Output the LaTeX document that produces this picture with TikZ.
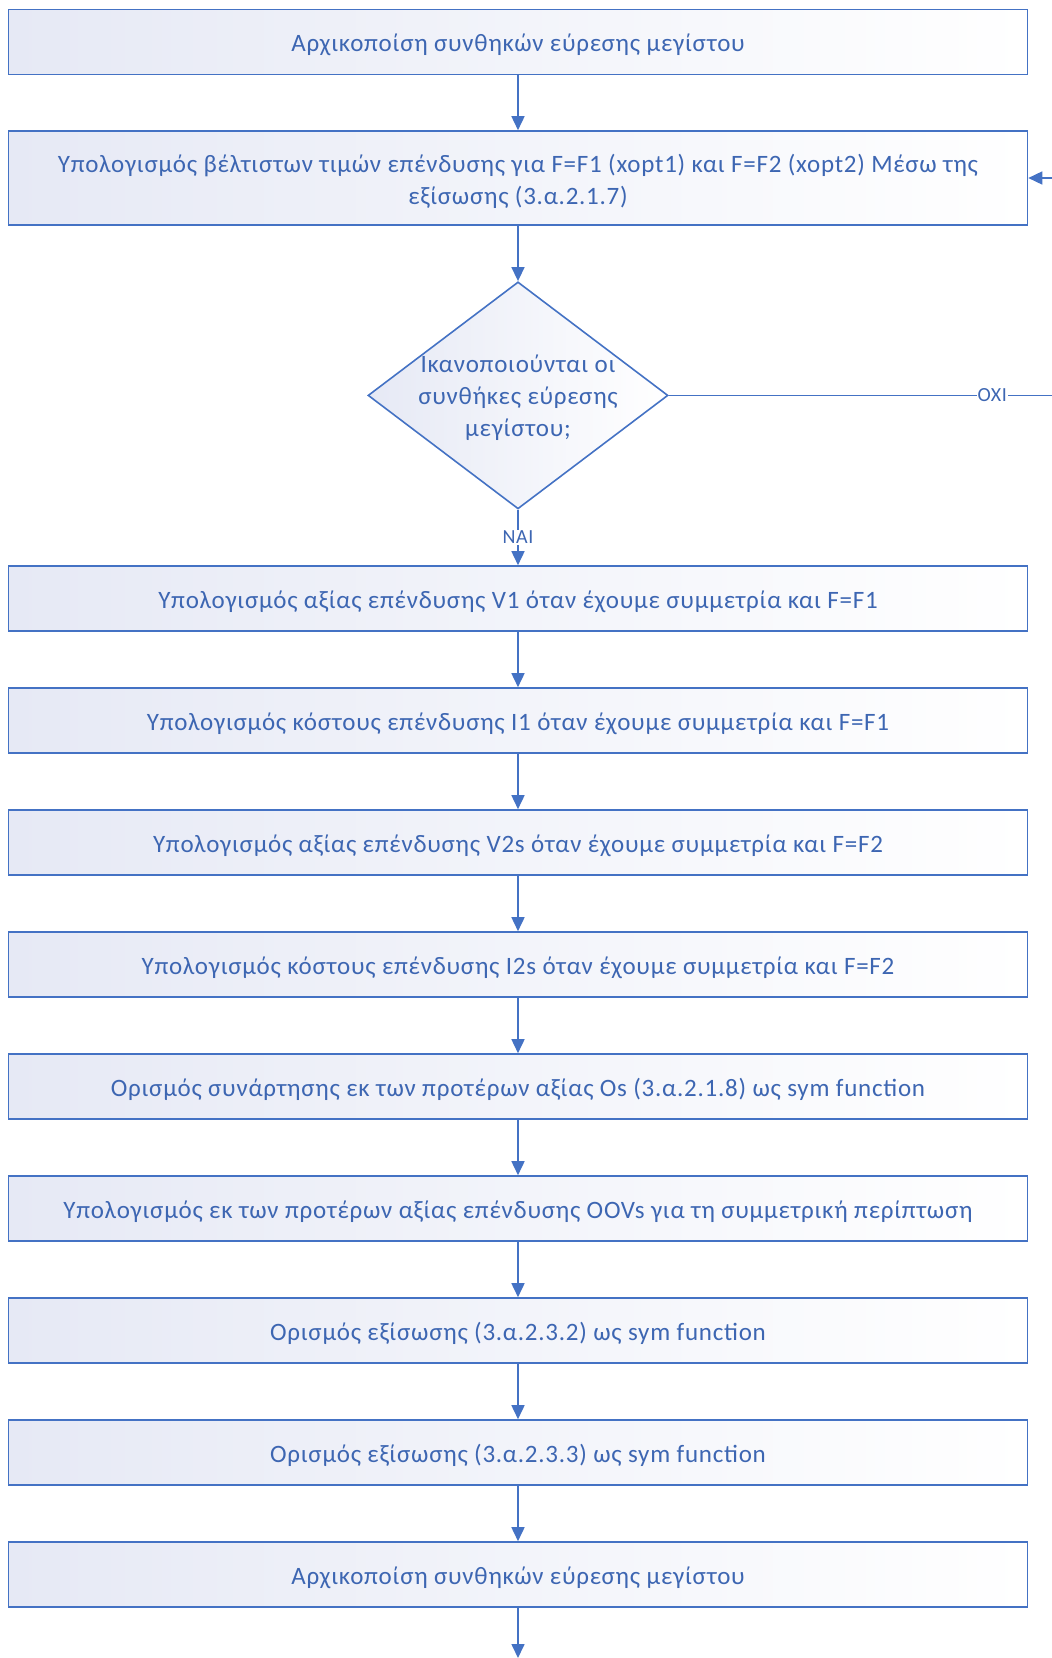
\documentclass[tikz,border=0pt]{standalone}
\usepackage{fontspec}
\setmainfont{Carlito}[LetterSpace=3]
\usetikzlibrary{shapes.geometric,arrows.meta}
\definecolor{lineblue}{RGB}{68,114,196}
\definecolor{textblue}{RGB}{61,102,178}
\definecolor{fillgray}{RGB}{230,233,245}
\tikzset{
  stepbox/.style={draw=lineblue, line width=1.6pt, left color=fillgray, right color=white,
    minimum width=1019pt, minimum height=65pt, inner sep=0pt, text=textblue,
    font=\fontsize{25}{32}\selectfont, align=center,
    execute at begin node={\rule{0pt}{24pt}}},
  decbox/.style={draw=lineblue, line width=1.6pt, left color=fillgray, right color=white,
    shape=diamond, minimum width=300pt, minimum height=227pt, inner sep=0pt},
  flow/.style={draw=lineblue, line width=1.6pt, -{Triangle[length=14pt,width=13pt]}},
  lbl/.style={fill=white, text=textblue, font=\fontsize{20}{22}\selectfont, inner sep=1pt}
}
\begin{document}
\begin{tikzpicture}[x=1pt,y=-1pt]
\useasboundingbox (0,0) rectangle (1052,1658);
\clip (0,0) rectangle (1052,1658);
\node[stepbox] (b1) at (518,41.8) {Αρχικοποίση συνθηκών εύρεσης μεγίστου};
\node[stepbox, minimum height=94pt, execute at begin node={}] (b2) at (518,178) {\raisebox{0pt}[\dimexpr\height+8pt\relax][\depth]{\begin{tabular}{@{}c@{}}Υπολογισμός βέλτιστων τιμών επένδυσης για F=F1 (xopt1) και F=F2 (xopt2) Μέσω της\\εξίσωσης (3.α.2.1.7)\end{tabular}}};
\node[decbox, label={[text=textblue, font=\fontsize{25}{32}\selectfont, align=center, yshift=-2.5pt]center:Ικανοποιούνται οι\\συνθήκες εύρεσης\\μεγίστου;}] (dec) at (518,395.4) {};
\node[stepbox] (b3) at (518,598.5) {Υπολογισμός αξίας επένδυσης V1 όταν έχουμε συμμετρία και F=F1};
\node[stepbox] (b4) at (518,720.5) {Υπολογισμός κόστους επένδυσης I1 όταν έχουμε συμμετρία και F=F1};
\node[stepbox] (b5) at (518,842.5) {Υπολογισμός αξίας επένδυσης V2s όταν έχουμε συμμετρία και F=F2};
\node[stepbox] (b6) at (518,964.5) {Υπολογισμός κόστους επένδυσης I2s όταν έχουμε συμμετρία και F=F2};
\node[stepbox] (b7) at (518,1086.5) {Ορισμός συνάρτησης εκ των προτέρων αξίας Os (3.α.2.1.8) ως sym function};
\node[stepbox] (b8) at (518,1208.5) {Υπολογισμός εκ των προτέρων αξίας επένδυσης OOVs για τη συμμετρική περίπτωση};
\node[stepbox] (b9) at (518,1330.5) {Ορισμός εξίσωσης (3.α.2.3.2) ως sym function};
\node[stepbox] (b10) at (518,1452.5) {Ορισμός εξίσωσης (3.α.2.3.3) ως sym function};
\node[stepbox] (b11) at (518,1574.5) {Αρχικοποίση συνθηκών εύρεσης μεγίστου};
\coordinate (loopR) at (1070,395.4);
\coordinate (endB) at (518,1658);
\draw[flow] (b1) -- (b2);
\draw[flow] (b2) -- (dec);
\draw[flow] (dec) -- node[lbl, pos=0.5] {ΝΑΙ} (b3);
\draw[flow] (b3) -- (b4);
\draw[flow] (b4) -- (b5);
\draw[flow] (b5) -- (b6);
\draw[flow] (b6) -- (b7);
\draw[flow] (b7) -- (b8);
\draw[flow] (b8) -- (b9);
\draw[flow] (b9) -- (b10);
\draw[flow] (b10) -- (b11);
\draw[flow] (b11) -- (endB);
\draw[flow] (dec.east) -- node[lbl, pos=0.806] {ΟΧΙ} (loopR) |- (b2.east);
\end{tikzpicture}
\end{document}
